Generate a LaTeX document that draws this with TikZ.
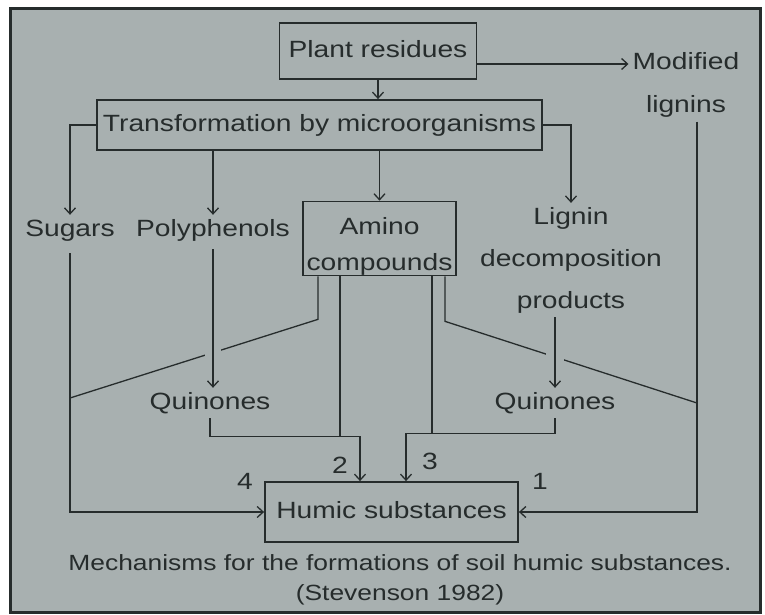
\documentclass[tikz,border=0pt]{standalone}
\usepackage{fontspec}
\setmainfont{Liberation Sans}[FakeStretch=1.2]
\usetikzlibrary{positioning, calc, arrows.meta}
\usepackage{xcolor}
\definecolor{panel}{RGB}{168,176,176}
\definecolor{ink}{RGB}{38,44,44}

\begin{document}
\begin{tikzpicture}[x=1pt, y=-1pt,
  every node/.style={text=ink, font=\fontsize{23.5}{28}\selectfont},
  frame/.style={draw=ink, line width=1.8pt, inner sep=0pt},
  oneline/.style={text height=17pt, text depth=5pt},
  box/.style={frame, oneline},
  txt/.style={inner sep=4pt, align=center},
  num/.style={inner sep=0pt, oneline},
  link/.style={draw=ink, line width=1.3pt},
  >={Straight Barb[length=6pt, width=11pt]}]
  % PANEL
  \useasboundingbox (0,0) rectangle (765,614);
  \draw[ink, line width=3pt, fill=panel] (10.5,8) rectangle (760,612);

  % boxes and labels
  \node[box, minimum width=197pt, minimum height=56pt] (plant) at (378,51) {Plant residues};
  \node[box, minimum width=445pt, minimum height=50pt] (trans) at (319.5,125) {Transformation by microorganisms};
  \node[txt, font=\fontsize{23.5}{43}\selectfont] (modif) at (686,85) {Modified\\lignins};
  \node[txt, oneline] (sugars) at (70,230) {Sugars};
  \node[txt, oneline] (polyph) at (213,230) {Polyphenols};
  \node[frame, align=center, minimum width=153pt, minimum height=67pt,
    font=\fontsize{23.5}{36}\selectfont] (amino) at (379.5,238.5) {\rule{0pt}{33pt}Amino\\compounds};
  \node[txt, font=\fontsize{23.5}{42}\selectfont] (lignin) at (571,260) {Lignin\\decomposition\\products};
  \node[txt, oneline] (quinL) at (210,403) {Quinones};
  \node[txt, oneline] (quinR) at (555,403) {Quinones};
  \node[box, minimum width=253pt, minimum height=60pt] (humic) at (391.5,512) {Humic substances};
  \node[txt, font=\fontsize{22}{30}\selectfont] (caption) at (400,580)
    {Mechanisms for the formations of soil humic substances.\\(Stevenson 1982)};

  % mechanism numbers
  \node[num] (n1) at (540,483) {1};
  \node[num] (n2) at (340,467) {2};
  \node[num] (n3) at (430,463) {3};
  \node[num] (n4) at (245,483) {4};

  % first split
  \draw[link,->] (plant.south) -- (plant.south |- trans.north);
  \coordinate (pr) at ([yshift=-13pt]plant.east);
  \draw[link,->] (pr) -- (pr -| modif.west);
  \draw[link,->] (trans.west) -| (sugars.north);
  \draw[link,->] (trans.south -| polyph.north) -- (polyph.north);
  \draw[link,->] (trans.south -| amino.north) -- (amino.north);
  \draw[link,->] (trans.east) -| (lignin.north);

  % amino compounds: cross links towards 4 and 1
  \coordinate (aL) at ([xshift=-61.5pt]amino.south);
  \coordinate (aR) at ([xshift=65.5pt]amino.south);
  \coordinate (mlt) at ([xshift=11pt]modif.south);
  \draw[link] (aL) -- ++(0,43) -- (sugars.south |- 0,398);
  \draw[link] (aR) -- ++(0,45) -- (mlt |- 0,403);

  % to quinones (bridging over the cross links)
  \draw[link,->, shorten <=4pt, preaction={draw=panel, line width=16pt, arrows={-}}]
    (polyph.south) -- (polyph.south |- quinL.north);
  \draw[link,->, preaction={draw=panel, line width=18pt, arrows={-}}]
    (quinR.north |- lignin.south) -- (quinR.north);

  % into humic substances
  \draw[link,->, shorten <=8pt] (sugars.south) |- (humic.west);
  \draw[link,->] (mlt) |- (humic.east);
  \coordinate (j2) at ([yshift=-18pt]quinL.south);
  \draw[link,->] (quinL.south) -- (j2) -| ([xshift=-31.5pt]humic.north);
  \coordinate (aM) at ([xshift=-39.5pt]amino.south);
  \draw[link] (aM) -- (aM |- j2);
  \coordinate (j3) at ([yshift=-15pt]quinR.south);
  \draw[link,->] (quinR.south) -- (j3) -| ([xshift=14.5pt]humic.north);
  \coordinate (aN) at ([xshift=52.5pt]amino.south);
  \draw[link] (aN) -- (aN |- j3);
\end{tikzpicture}
\end{document}
